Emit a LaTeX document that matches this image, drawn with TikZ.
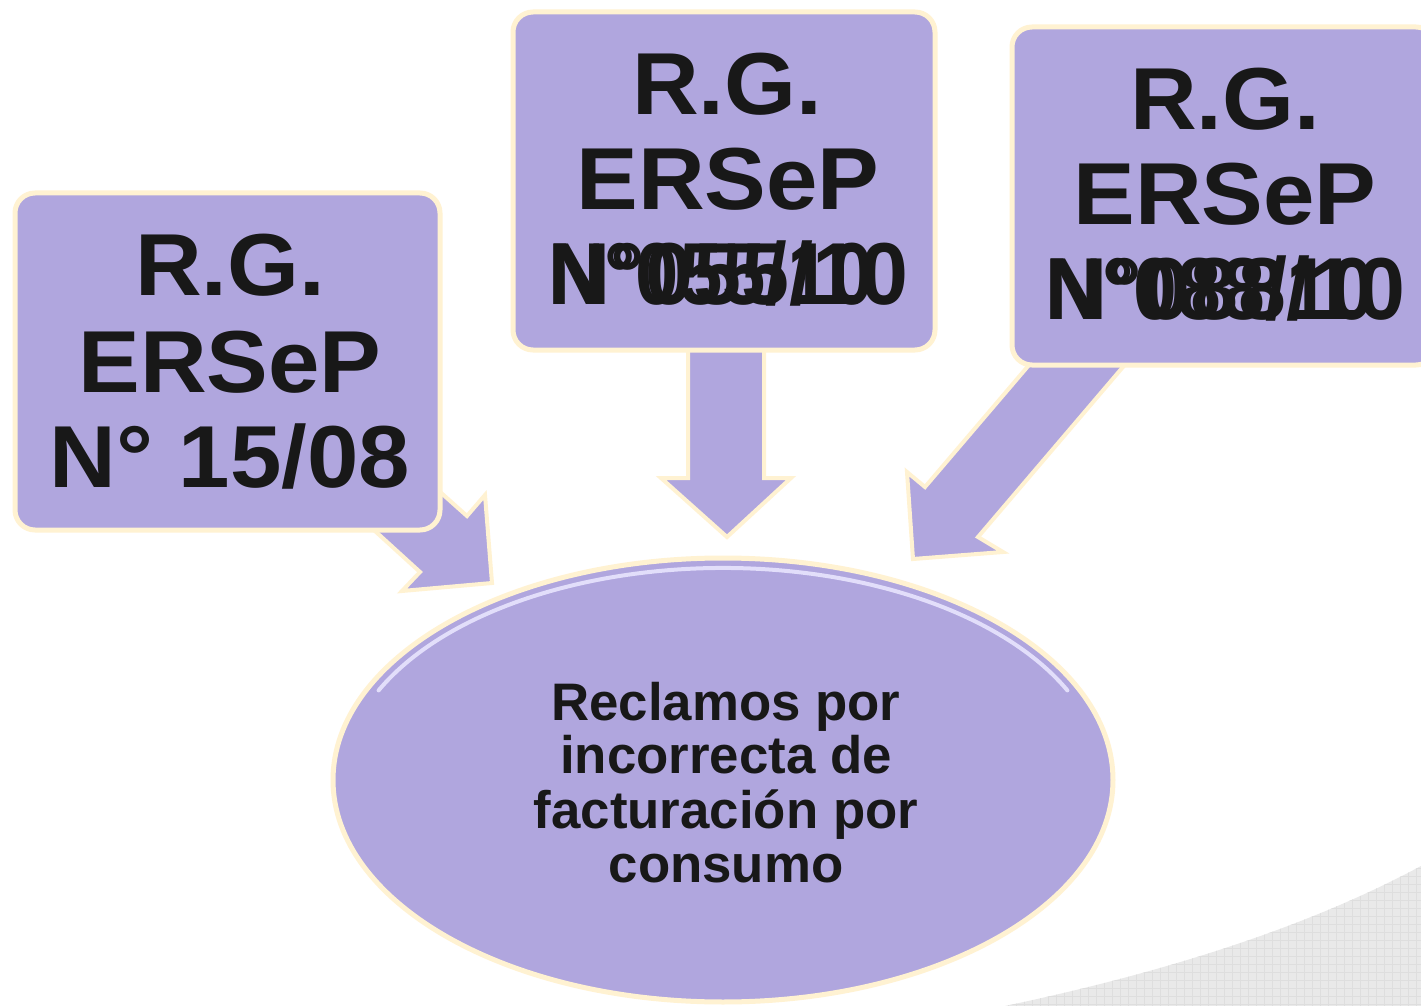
\documentclass[tikz,border=0pt]{standalone}
\usepackage{fontspec}
\setmainfont{Liberation Sans}
\usetikzlibrary{shapes.geometric}
\definecolor{lav}{RGB}{176,166,222}
\definecolor{glow}{RGB}{255,242,210}
\definecolor{rim}{RGB}{226,222,250}
\definecolor{ink}{RGB}{24,24,24}
\definecolor{hatch}{RGB}{233,233,233}
\definecolor{hatchline}{RGB}{222,222,222}
\begin{document}
\begin{tikzpicture}[x=0.5pt,y=-0.5pt,
  boxstyle/.style={fill=lav, draw=glow, line width=2.5pt, rounded corners=10pt, inner sep=0pt},
  arrowshape/.style={fill=lav, draw=glow, line width=2pt, line join=miter},
  numtext/.style={text=ink, inner sep=0pt, font=\fontsize{44}{48}\selectfont\bfseries},
  boxtext/.style={numtext, anchor=base, xscale=1.05},
  elltext/.style={anchor=base, text=ink, inner sep=0pt, font=\fontsize{26.4}{28}\selectfont\bfseries}]
\useasboundingbox (0,0) rectangle (1421,1006);
\fill[white] (0,0) rectangle (1421,1006);
% background hatched swoosh
\begin{scope}
\clip (1005,1006) .. controls (1200,965) and (1330,915) .. (1421,866) -- (1421,1006) -- cycle;
\fill[hatch] (1000,860) rectangle (1421,1006);
\foreach \i in {1000,1008,...,1421} \draw[hatchline, line width=0.3pt] (\i,860) -- (\i,1006);
\foreach \j in {860,868,...,1006} \draw[hatchline, line width=0.3pt] (1000,\j) -- (1421,\j);
\end{scope}
% block arrows
\draw[arrowshape] (308,470) -- (420,572) -- (402,591) -- (492,583) -- (485,495) -- (467,516) -- (355,416) -- cycle;
\draw[arrowshape] (688,330) -- (764,330) -- (764,478) -- (791,478) -- (727,537) -- (661,478) -- (688,478) -- cycle;
\draw[arrowshape] (1087,297) -- (1140,347) -- (978,537) -- (1003,552) -- (913,559) -- (907,472) -- (925,487) -- cycle;
% boxes
\node[boxstyle, minimum width=212.5pt, minimum height=168.5pt] (b1) at (227.5,361.5) {};
\node[boxstyle, minimum width=211pt, minimum height=169pt] (b2) at (724,181) {};
\node[boxstyle, minimum width=212pt, minimum height=169pt] (b3) at (1224,196) {};
% ellipse
\node[ellipse, fill=lav, draw=glow, line width=2.5pt, minimum width=390pt, minimum height=222pt, inner sep=0pt] (e) at (723,780) {};
\draw[rim, line width=2pt, line cap=round] (e.center) ++(205:380 and 212) arc[start angle=205, end angle=335, x radius=380, y radius=212];
% left box text
\node[boxtext] (t11) at (230,295) {R.G.};
\node[boxtext] (t12) at (230,392) {ERSeP};
\node[boxtext] (t13) at (230,487) {N° 15/08};
% middle box text
\node[boxtext] (t21) at (727,115) {R.G.};
\node[boxtext] (t22) at (728,210) {ERSeP};
\node[numtext, anchor=base west, xscale=0.98] (t23) at (548,305) {N°055/10};
\node[numtext, anchor=base west, xscale=0.885] (t24) at (548,305) {N°055/10};
% right box text
\node[boxtext] (t31) at (1225,130) {R.G.};
\node[boxtext] (t32) at (1225,225) {ERSeP};
\node[numtext, anchor=base west, xscale=0.98] (t33) at (1045,320) {N°088/10};
\node[numtext, anchor=base west, xscale=0.895] (t34) at (1045,320) {N°088/10};
% ellipse text
\node[elltext] (r1) at (726,720) {Reclamos por};
\node[elltext] (r2) at (726,773) {incorrecta de};
\node[elltext] (r3) at (726,828) {facturación por};
\node[elltext] (r4) at (726,882) {consumo};
\end{tikzpicture}
\end{document}
